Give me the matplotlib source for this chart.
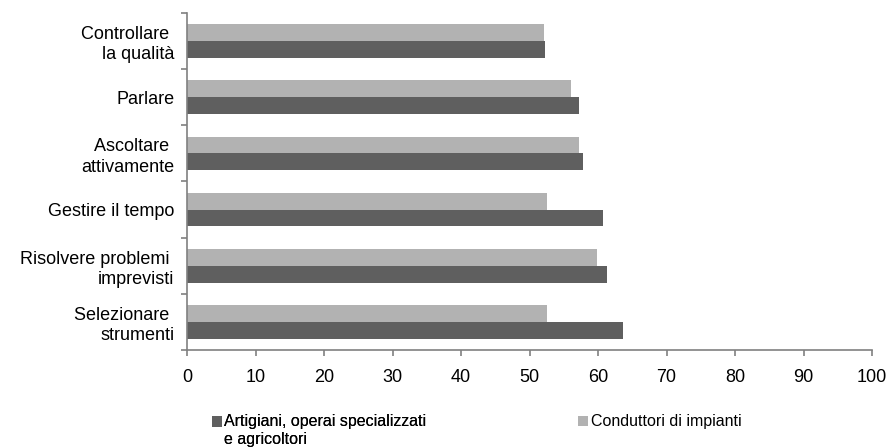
import matplotlib.pyplot as plt
import numpy as np
from matplotlib.legend_handler import HandlerPatch
from matplotlib.patches import Rectangle

plt.rcParams['font.family'] = ['Liberation Sans', 'DejaVu Sans']

# competenze, dal basso verso l'alto
competenze = [
    "Selezionare \nstrumenti",
    "Risolvere problemi \nimprevisti",
    "Gestire il tempo",
    "Ascoltare \nattivamente",
    "Parlare",
    "Controllare \nla qualità",
]
artigiani = [63.6, 61.3, 60.7, 57.8, 57.2, 52.3]
conduttori = [52.6, 59.9, 52.6, 57.2, 56.1, 52.1]
serie = ["Artigiani, operai specializzati\ne agricoltori", "Conduttori di impianti"]
xticks = list(range(0, 101, 10))

col_scuro = "#5f5f5f"
col_chiaro = "#b2b2b2"
col_assi = "#808080"

fig = plt.figure(figsize=(8.88, 4.47), dpi=100)
ax = fig.add_axes([0.2106, 0.217, 0.7714, 0.754])

y = np.arange(len(competenze))
h = 0.3
b1 = ax.barh(y - h / 2, artigiani, height=h, color=col_scuro)
b2 = ax.barh(y + h / 2, conduttori, height=h, color=col_chiaro)

ax.set_xlim(0, 100)
ax.set_ylim(-0.5, len(competenze) - 0.5)
ax.set_xticks(xticks)
ax.set_yticks(y)
ax.set_yticklabels(competenze, fontsize=13, linespacing=1.25)
ax.set_yticks(np.arange(len(competenze) + 1) - 0.5, minor=True)
ax.tick_params(axis='y', which='major', length=0, pad=9)
ax.tick_params(axis='y', which='minor', length=4, width=1.2, color=col_assi)
ax.tick_params(axis='x', labelsize=13, length=4.5, width=1.2, color=col_assi, pad=9)

for s in ['top', 'right']:
    ax.spines[s].set_visible(False)
for s in ['left', 'bottom']:
    ax.spines[s].set_color(col_assi)
    ax.spines[s].set_linewidth(1.2)


# quadratino allineato alla prima riga di un'etichetta su due righe
def quadrato_prima_riga(legend, orig_handle, xdescent, ydescent, width, height, fontsize):
    return Rectangle((-xdescent, -ydescent + 0.6 * fontsize), width, height)


opts = dict(loc='upper left', frameon=False, fontsize=11.5, handlelength=0.63,
            handleheight=0.63, handletextpad=0.15, borderpad=0, borderaxespad=0)

leg1 = fig.legend([b1[0]], [serie[0]], bbox_to_anchor=(0.2384, 0.073),
                  handler_map={b1[0]: HandlerPatch(patch_func=quadrato_prima_riga)}, **opts)
fig.add_artist(leg1)
fig.legend([b2[0]], [serie[1]], bbox_to_anchor=(0.6512, 0.073), **opts)

fig.savefig("out.png", dpi=100)
